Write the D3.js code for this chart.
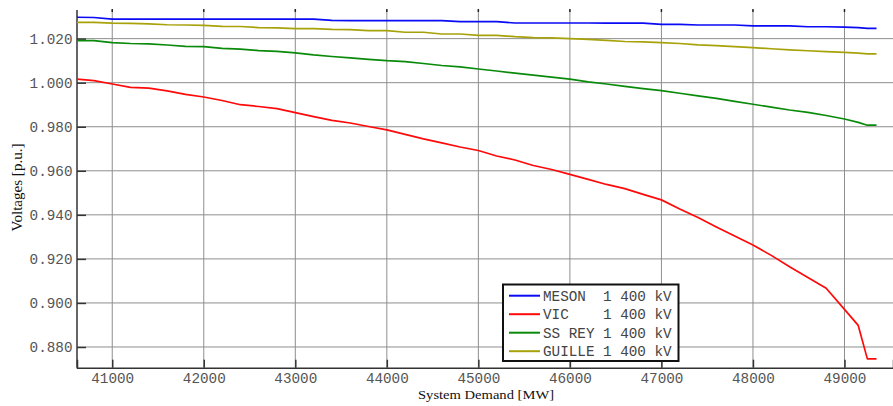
<!DOCTYPE html>
<html>
<head>
<meta charset="utf-8">
<script src="https://cdn.jsdelivr.net/npm/d3@7"></script>
<style>
  html, body { margin: 0; padding: 0; background: #fff; }
  svg { display: block; }
  .mono { font-family: "Courier New", Courier, "Nimbus Mono PS", FreeMono, "Liberation Mono", monospace; }
  .serif { font-family: "Liberation Serif", "Times New Roman", "DejaVu Serif", serif; }
</style>
</head>
<body>
<svg id="chart" width="893" height="406"></svg>
<script>
// System demand (MW) at each load-flow step
const demand = [40615, 40800, 41000, 41200, 41400, 41600, 41800, 42000, 42200, 42400,
  42600, 42800, 43000, 43200, 43400, 43600, 43800, 44000, 44200, 44400,
  44600, 44800, 45000, 45200, 45400, 45600, 45800, 46000, 46200, 46400,
  46600, 46800, 47000, 47200, 47400, 47600, 47800, 48000, 48200, 48400,
  48600, 48800, 49000, 49150, 49250, 49350];

// Bus voltages (p.u.)
const meson = [1.0297, 1.0296, 1.0289, 1.0289, 1.0289, 1.0289, 1.0289, 1.0289, 1.0289, 1.0289,
  1.0289, 1.0289, 1.0289, 1.0289, 1.0283, 1.0282, 1.0282, 1.0282, 1.0282, 1.0282,
  1.0282, 1.0277, 1.0277, 1.0277, 1.0271, 1.0271, 1.0271, 1.0271, 1.0271, 1.0270,
  1.0270, 1.0270, 1.0265, 1.0265, 1.0262, 1.0262, 1.0262, 1.0258, 1.0258, 1.0258,
  1.0254, 1.0254, 1.0252, 1.0250, 1.0247, 1.0247];

const vic = [1.0016, 1.0009, 0.9994, 0.9979, 0.9975, 0.9963, 0.9947, 0.9935, 0.9919, 0.9900,
  0.9892, 0.9882, 0.9864, 0.9846, 0.9829, 0.9817, 0.9801, 0.9786, 0.9765, 0.9745,
  0.9727, 0.9708, 0.9692, 0.9667, 0.9649, 0.9624, 0.9606, 0.9584, 0.9561, 0.9538,
  0.9519, 0.9493, 0.9468, 0.9427, 0.9388, 0.9345, 0.9304, 0.9263, 0.9216, 0.9164,
  0.9116, 0.9067, 0.8971, 0.8898, 0.8746, 0.8746];

const ssRey = [1.0191, 1.0191, 1.0182, 1.0178, 1.0176, 1.0171, 1.0165, 1.0164, 1.0156, 1.0152,
  1.0146, 1.0142, 1.0135, 1.0126, 1.0119, 1.0113, 1.0106, 1.0100, 1.0096, 1.0087,
  1.0078, 1.0072, 1.0062, 1.0053, 1.0043, 1.0034, 1.0025, 1.0016, 1.0004, 0.9994,
  0.9983, 0.9973, 0.9964, 0.9952, 0.9940, 0.9929, 0.9915, 0.9902, 0.9889, 0.9876,
  0.9865, 0.9851, 0.9835, 0.9820, 0.9807, 0.9807];

const guille = [1.0274, 1.0274, 1.0270, 1.0269, 1.0267, 1.0263, 1.0262, 1.0260, 1.0256, 1.0255,
  1.0250, 1.0249, 1.0245, 1.0245, 1.0242, 1.0241, 1.0236, 1.0236, 1.0229, 1.0229,
  1.0221, 1.0221, 1.0215, 1.0215, 1.0209, 1.0205, 1.0203, 1.0200, 1.0197, 1.0192,
  1.0187, 1.0185, 1.0182, 1.0178, 1.0172, 1.0168, 1.0164, 1.0159, 1.0154, 1.0149,
  1.0145, 1.0141, 1.0138, 1.0134, 1.0131, 1.0131];

const seriesNames = ["MESON  1 400 kV", "VIC    1 400 kV", "SS REY 1 400 kV", "GUILLE 1 400 kV"];
const seriesColors = ["#0a0af5", "#ff0a0a", "#0a8a0a", "#a8a20a"];
const seriesValues = [meson, vic, ssRey, guille];

const xTicks = [41000, 42000, 43000, 44000, 45000, 46000, 47000, 48000, 49000];
const yTicks = [0.880, 0.900, 0.920, 0.940, 0.960, 0.980, 1.000, 1.020];

const svg = d3.select("#chart");
const plot = { left: 77, right: 893, top: 10, bottom: 367.7 };

const x = d3.scaleLinear().domain([40615, 49530]).range([plot.left, plot.right]);
const y = d3.scaleLinear().domain([0.8706, 1.0330]).range([plot.bottom, plot.top]);

// grid
const grid = svg.append("g").attr("stroke", "#8e8e8e").attr("stroke-width", 1);
grid.selectAll("line.v").data(xTicks).join("line")
  .attr("x1", d => x(d)).attr("x2", d => x(d))
  .attr("y1", plot.top).attr("y2", plot.bottom);
grid.selectAll("line.h").data(yTicks).join("line")
  .attr("x1", plot.left).attr("x2", plot.right)
  .attr("y1", d => y(d)).attr("y2", d => y(d));

// axes: ticks point inward, labels in monospace
const xAxis = d3.axisBottom(x).tickValues(xTicks).tickSize(-8).tickPadding(5)
  .tickFormat(d3.format("d"));
const gx = svg.append("g").attr("transform", `translate(0,${plot.bottom})`).call(xAxis);
gx.attr("font-family", null);
gx.select(".domain").attr("stroke", "#333").attr("stroke-width", 1.5);
gx.selectAll(".tick line").attr("stroke", "#333").attr("stroke-width", 1.5);
gx.selectAll(".tick text").attr("class", "mono").attr("font-size", 14.3)
  .attr("fill", "#555");

const yAxis = d3.axisLeft(y).tickValues(yTicks).tickSize(-9).tickPadding(4.5)
  .tickFormat(d3.format(".3f"));
const gy = svg.append("g").attr("transform", `translate(${plot.left},0)`).call(yAxis);
gy.attr("font-family", null);
gy.select(".domain").attr("stroke", "#333").attr("stroke-width", 1.5)
  .attr("d", `M0,${plot.top}V${plot.bottom}`);
gy.selectAll(".tick line").attr("stroke", "#333").attr("stroke-width", 1.5);
gy.selectAll(".tick text").attr("class", "mono").attr("font-size", 14.3)
  .attr("fill", "#555");

// small marks along the top edge
svg.append("g").selectAll("line").data(xTicks).join("line")
  .attr("x1", d => x(d)).attr("x2", d => x(d))
  .attr("y1", plot.top - 1).attr("y2", plot.top + 2)
  .attr("stroke", "#222").attr("stroke-width", 1.5);

// voltage curves
const line = d3.line().x((d, i) => x(demand[i])).y(d => y(d));
svg.append("g").selectAll("path").data(seriesValues).join("path")
  .attr("d", d => line(d))
  .attr("fill", "none")
  .attr("stroke", (d, i) => seriesColors[i])
  .attr("stroke-width", 1.7)
  .attr("stroke-linejoin", "round");

// axis titles
svg.append("text").attr("class", "serif")
  .attr("x", 486).attr("y", 398.7).attr("text-anchor", "middle")
  .attr("font-size", 13).attr("fill", "#111")
  .attr("textLength", 136).attr("lengthAdjust", "spacingAndGlyphs")
  .text("System Demand [MW]");
svg.append("text").attr("class", "serif")
  .attr("transform", "translate(22,187.5) rotate(-90)")
  .attr("text-anchor", "middle")
  .attr("font-size", 14.5).attr("fill", "#111")
  .attr("textLength", 88).attr("lengthAdjust", "spacingAndGlyphs")
  .text("Voltages [p.u.]");

// legend
const legend = svg.append("g");
legend.append("rect")
  .attr("x", 503).attr("y", 284.5).attr("width", 175.5).attr("height", 76.5)
  .attr("fill", "#fff").attr("stroke", "#111").attr("stroke-width", 2);
const rowY = i => 295.7 + i * 18.5;
legend.selectAll("line").data(seriesNames).join("line")
  .attr("x1", 509).attr("x2", 540)
  .attr("y1", (d, i) => rowY(i)).attr("y2", (d, i) => rowY(i))
  .attr("stroke", (d, i) => seriesColors[i]).attr("stroke-width", 2);
legend.selectAll("text").data(seriesNames).join("text")
  .attr("class", "mono")
  .attr("x", 543).attr("y", (d, i) => rowY(i)).attr("dy", "0.35em")
  .attr("font-size", 14.3).attr("fill", "#444")
  .attr("xml:space", "preserve").style("white-space", "pre")
  .text(d => d);
</script>
</body>
</html>
